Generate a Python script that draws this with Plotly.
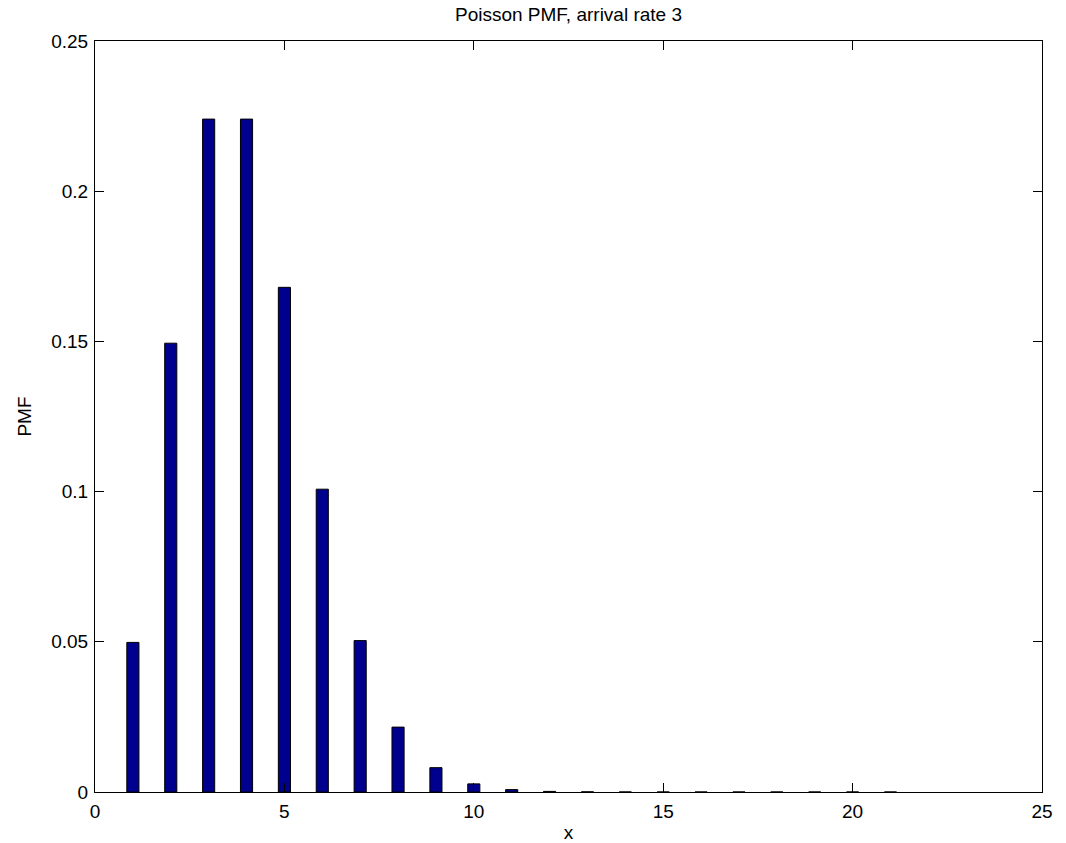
import plotly.graph_objects as go

x_vals = list(range(1, 22))
pmf_vals = [0.0498, 0.1494, 0.2240, 0.2240, 0.1680, 0.1008, 0.0504, 0.0216,
            0.0081, 0.0027, 0.0008, 0.0002, 0.00005, 0.00001, 0.0, 0.0,
            0.0, 0.0, 0.0, 0.0, 0.0]
x_ticks = [0, 5, 10, 15, 20, 25]
y_ticks = [0, 0.05, 0.1, 0.15, 0.2, 0.25]
y_tick_text = ["0", "0.05", "0.1", "0.15", "0.2", "0.25"]

FONT = "Liberation Sans, Arial, Helvetica"
FS = 19
W, H = 1066, 843

fig = go.Figure()
fig.add_trace(go.Bar(
    x=x_vals, y=pmf_vals, width=0.32,
    marker=dict(color="#00008F", line=dict(color="black", width=1)),
))

axis_common = dict(
    showline=True, linecolor="black", linewidth=1, mirror="ticks",
    ticks="inside", ticklen=9, tickcolor="black", showgrid=False,
    zeroline=False, automargin=False,
    tickfont=dict(family=FONT, size=FS, color="black"),
)

fig.update_layout(
    width=W, height=H,
    margin=dict(l=95, r=24, t=41, b=51),
    plot_bgcolor="white", paper_bgcolor="white",
    title=dict(text="Poisson PMF, arrival rate 3", x=0.5, xanchor="center", xref="paper",
               y=1 - 14 / H, yanchor="middle",
               font=dict(family=FONT, size=FS, color="black")),
    xaxis=dict(range=[0, 25], tickvals=x_ticks, ticklabelstandoff=2, **axis_common,
               title=dict(text="x", standoff=12,
                          font=dict(family=FONT, size=FS, color="black"))),
    yaxis=dict(range=[0, 0.25], tickvals=y_ticks, ticktext=y_tick_text,
               ticklabelstandoff=2, **axis_common,
               title=dict(text="PMF", standoff=14,
                          font=dict(family=FONT, size=FS, color="black"))),
    showlegend=False,
    font=dict(family=FONT, size=FS, color="black"),
)

fig.write_html("out.html", config={"displayModeBar": False},
               post_script="document.body.style.margin='0';")
